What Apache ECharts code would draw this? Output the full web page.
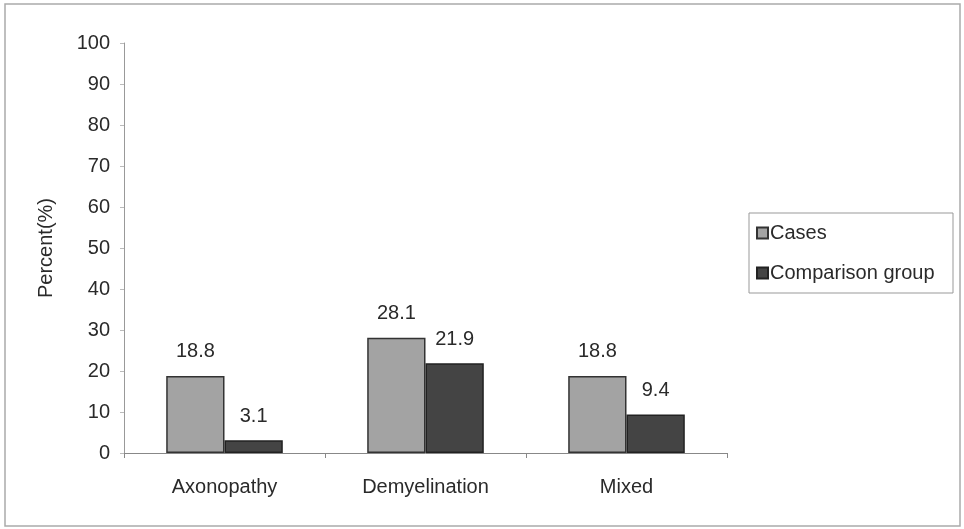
<!DOCTYPE html>
<html><head><meta charset="utf-8">
<script src="https://cdn.jsdelivr.net/npm/echarts@6/dist/echarts.min.js"></script>
<style>html,body{margin:0;padding:0;background:#fff}#c{width:964px;height:529px}</style>
</head><body><div id="c"></div>
<script>
const categories = ['Axonopathy', 'Demyelination', 'Mixed'];
const casesValues = [18.8, 28.1, 18.8];
const comparisonValues = [3.1, 21.9, 9.4];
const yTicks = [0, 10, 20, 30, 40, 50, 60, 70, 80, 90, 100];

const chart = echarts.init(document.getElementById('c'));
const font = 'Liberation Sans, Arial, sans-serif';
const fs = 20;
chart.setOption({
  backgroundColor: '#fff',
  animation: false,
  graphic: [{
    type: 'rect', shape: {x: 5, y: 4, width: 955, height: 522},
    style: {fill: 'none', stroke: '#aaa', lineWidth: 1.5}
  }, {
    type: 'rect', shape: {x: 749, y: 213, width: 204, height: 80},
    style: {fill: '#fff', stroke: '#999', lineWidth: 1}
  }],
  legend: {
    orient: 'vertical', left: 751, top: 218, itemGap: 20,
    itemWidth: 11, itemHeight: 11, icon: 'rect',
    textStyle: {fontFamily: font, fontSize: fs, color: '#2a2a2a', padding: [0,0,0,-3]},
    data: ['Cases', 'Comparison group']
  },
  grid: {left: 124, right: 237, top: 43, bottom: 76},
  xAxis: {
    type: 'category', data: categories,
    axisLine: {lineStyle: {color: '#888', width: 1}},
    axisTick: {show: true, length: 5, lineStyle: {color: '#888'}},
    axisLabel: {fontFamily: font, fontSize: fs, color: '#2a2a2a', margin: 24}
  },
  yAxis: {
    type: 'value', min: 0, max: 100, interval: 10,
    name: 'Percent(%)', nameLocation: 'middle', nameGap: 68, nameRotate: 90,
    nameTextStyle: {fontFamily: font, fontSize: fs, color: '#2a2a2a'},
    axisLine: {show: true, lineStyle: {color: '#999'}},
    axisTick: {show: true, length: 4, lineStyle: {color: '#bbb'}},
    splitLine: {show: false},
    axisLabel: {fontFamily: font, fontSize: fs, color: '#2a2a2a', margin: 14,
      formatter: v => yTicks.includes(v) ? String(v) : ''}
  },
  series: [{
    name: 'Cases', type: 'bar', data: casesValues,
    barGap: '0%', barCategoryGap: '42%',
    itemStyle: {color: '#a3a3a3', borderColor: '#333', borderWidth: 1.5},
    label: {show: true, position: 'top', distance: 14, fontFamily: font, fontSize: fs, color: '#2a2a2a'}
  }, {
    name: 'Comparison group', type: 'bar', data: comparisonValues,
    itemStyle: {color: '#444', borderColor: '#222', borderWidth: 1.5},
    label: {show: true, position: 'top', distance: 14, fontFamily: font, fontSize: fs, color: '#2a2a2a'}
  }]
});
</script></body></html>
